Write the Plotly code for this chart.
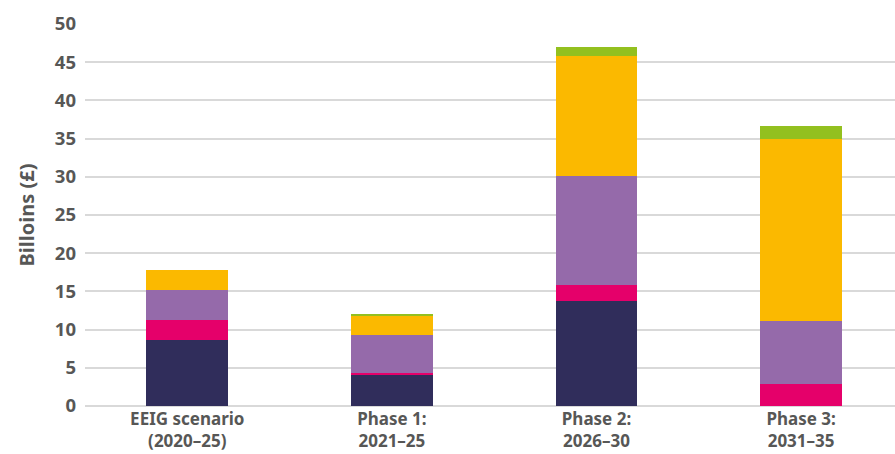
import plotly.graph_objects as go

# Investment breakdown by period (billions of pounds)
categories = ["EEIG scenario<br>(2020–25)", "Phase 1:<br>2021–25", "Phase 2:<br>2026–30", "Phase 3:<br>2031–35"]
series_names = ["Segment 1", "Segment 2", "Segment 3", "Segment 4", "Segment 5"]
segment_1 = [8.7, 4.0, 13.8, 0.0]
segment_2 = [2.5, 0.35, 2.1, 2.9]
segment_3 = [4.0, 4.9, 14.2, 8.2]
segment_4 = [2.6, 2.6, 15.7, 23.8]
segment_5 = [0.0, 0.25, 1.2, 1.7]
y_ticks = [0, 5, 10, 15, 20, 25, 30, 35, 40, 45, 50]

colors = ["#302D5B", "#E5006A", "#956AAA", "#FBB900", "#93C01F"]
values = [segment_1, segment_2, segment_3, segment_4, segment_5]

fig = go.Figure()
for name, vals, col in zip(series_names, values, colors):
    fig.add_trace(go.Bar(
        x=categories, y=vals, name=name,
        marker=dict(color=col, line=dict(width=0)),
        width=0.4,
    ))

text_color = "#575756"
font_family = "Noto Sans"

fig.update_layout(
    barmode="stack",
    width=895, height=454,
    margin=dict(l=85, r=0, t=24, b=48),
    paper_bgcolor="white", plot_bgcolor="white",
    showlegend=False,
    font=dict(family=font_family, color=text_color),
    xaxis=dict(
        range=[-0.5, 3.459],
        automargin=False,
        showgrid=False, showline=False, ticks="",
        ticklabelstandoff=1,
        tickfont=dict(family=font_family, size=17, color=text_color, weight="bold"),
    ),
    yaxis=dict(
        range=[0, 50],
        automargin=False,
        tickvals=y_ticks,
        showgrid=True, gridcolor="#D9D9D9", gridwidth=1.5,
        zeroline=True, zerolinecolor="#D9D9D9", zerolinewidth=1.5,
        showline=False, ticks="",
        ticklabelstandoff=8,
        tickfont=dict(family=font_family, size=18.5, color=text_color, weight="bold"),
        title=dict(text="Billoins (£)", standoff=14,
                   font=dict(family=font_family, size=20, color=text_color, weight="bold")),
    ),
)

fig.write_html("out.html")
